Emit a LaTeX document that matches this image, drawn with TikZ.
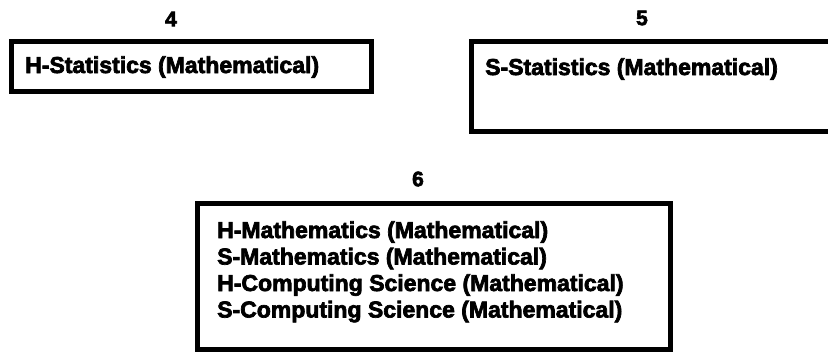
\documentclass[tikz,border=0pt]{standalone}
\usepackage{fontspec}
\newfontfamily\heavy[BoldFeatures={FakeBold=3}]{Liberation Sans}
\begin{document}
\begin{tikzpicture}[x=1pt,y=-1pt,
  box/.style={draw=black,line width=5pt,inner sep=0pt,fill=white},
  lbl/.style={inner sep=0pt,anchor=base west,font=\heavy\bfseries\fontsize{23}{24}\selectfont},
  num/.style={inner sep=0pt,font=\heavy\bfseries\fontsize{21}{22}\selectfont}]
\useasboundingbox (0,0) rectangle (828,356);
\clip (0,0) rectangle (828,356);
% boxes
\node[box,minimum width=360pt,minimum height=50pt] (b4) at (191,66) {};
\node[box,minimum width=389pt,minimum height=90pt] (b5) at (665.5,86) {};
\node[box,minimum width=473pt,minimum height=146pt] (b6) at (433.5,276) {};
% numbers
\node[num] (n4) at (171,19) {4};
\node[num] (n5) at (642,18) {5};
\node[num] (n6) at (418,179) {6};
% texts
\node[lbl] (t4) at (25,73) {H-Statistics (Mathematical)};
\node[lbl] (t5) at (485,75) {S-Statistics (Mathematical)};
\node[lbl] (t61) at (217,238) {H-Mathematics (Mathematical)};
\node[lbl] (t62) at (217,264.5) {S-Mathematics (Mathematical)};
\node[lbl] (t63) at (217,291) {H-Computing Science (Mathematical)};
\node[lbl] (t64) at (217,317.5) {S-Computing Science (Mathematical)};
\end{tikzpicture}
\end{document}
